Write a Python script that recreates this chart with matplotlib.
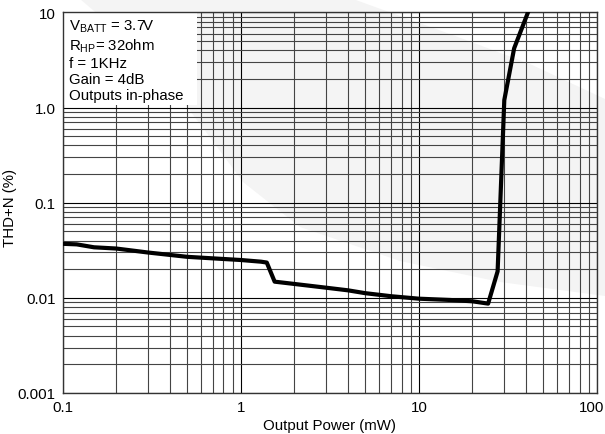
import matplotlib.pyplot as plt
import matplotlib.transforms as mtransforms
from matplotlib.patches import Rectangle, Polygon

plt.rcParams['font.family'] = ['Liberation Sans', 'DejaVu Sans']

power_mw = [0.1, 0.12, 0.15, 0.2, 0.3, 0.5, 0.7, 1.0, 1.3, 1.4, 1.55, 2.0, 3.0,
            4.0, 5.0, 7.0, 10.0, 15.0, 20.0, 24.5, 27.7, 30.2, 34.3, 41.0]
thd_pct = [0.037, 0.0365, 0.034, 0.033, 0.030, 0.027, 0.026, 0.025, 0.024, 0.0235,
           0.0148, 0.014, 0.0128, 0.012, 0.0112, 0.0104, 0.0098, 0.0095, 0.0092,
           0.0087, 0.019, 1.2, 4.2, 10.0]

x_ticks = [0.1, 1, 10, 100]
x_labels = ["0.1", "1", "10", "100"]
y_ticks = [0.001, 0.01, 0.1, 1, 10]
y_labels = ["0.001", "0.01", "0.1", "1.0", "10"]

notes = ["V$_{\\mathregular{BATT}}$ = 3.7V", "R$_{\\mathregular{HP}}$= 32ohm",
         "f = 1KHz", "Gain = 4dB", "Outputs in-phase"]

W, H = 605, 435
fig = plt.figure(figsize=(6.05, 4.35), dpi=100)

# faint watermark swoosh behind the chart (pixel outline)
swoosh_px = [(80, 0), (353, 0), (450, 35), (530, 65), (605, 100), (605, 297),
             (500, 283), (400, 262), (300, 228), (243, 183), (200, 125),
             (150, 60)]
fig.patches.append(Polygon([(x / W, 1 - y / H) for x, y in swoosh_px],
                           closed=True, transform=fig.transFigure,
                           facecolor="#f4f4f4", edgecolor="none", zorder=-1))

ax = fig.add_axes([0.1036, 0.0943, 0.883, 0.8747])
ax.patch.set_alpha(0)

ax.set_xscale("log")
ax.set_yscale("log")
ax.set_xlim(0.1, 100)
ax.set_ylim(0.001, 10)

ax.grid(which="major", color="black", linewidth=0.8)
ax.grid(which="minor", color="#444444", linewidth=0.8)
ax.set_axisbelow(True)

ax.plot(power_mw, thd_pct, color="black", linewidth=3, zorder=3)

ax.add_patch(Rectangle((0, 0.758), 0.251, 0.242, transform=ax.transAxes,
                       facecolor="white", edgecolor="none", zorder=2))
ax.text(0.012, 0.988, "\n".join(notes), transform=ax.transAxes, va="top",
        ha="left", fontsize=10.8, linespacing=1.18, zorder=4)

ax.set_xticks(x_ticks)
ax.set_xticklabels(x_labels)
ax.set_yticks(y_ticks)
ax.set_yticklabels(y_labels)
ax.tick_params(which="both", length=0, labelsize=10.8, pad=5)

last = ax.get_xticklabels()[-1]
last.set_transform(last.get_transform() +
                   mtransforms.ScaledTranslation(-5.5 / 100, 0, fig.dpi_scale_trans))

ax.set_xlabel("Output Power (mW)", fontsize=10.8, labelpad=3)
ax.set_ylabel("THD+N (%)", fontsize=10.8)
ax.yaxis.set_label_coords(-0.0856, 0.49)

for s in ax.spines.values():
    s.set_linewidth(1.0)
    s.set_color("#333333")

fig.savefig("out.png", dpi=100)
